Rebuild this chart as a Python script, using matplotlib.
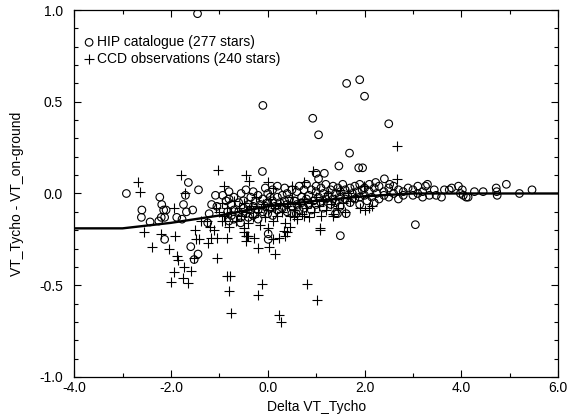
import matplotlib
matplotlib.use('Agg')
import matplotlib.pyplot as plt
import matplotlib.ticker as ticker
import numpy as np

plt.rcParams['font.family'] = ['Liberation Sans', 'DejaVu Sans']
plt.rcParams['font.size'] = 10

# HIP catalogue comparisons (x = Delta VT_Tycho, y = VT_Tycho - VT_on-ground)
hip_x = [
    -2.92, -2.60, -2.61, -2.43, -2.23, -2.19, -2.15, -2.13, -2.20, -2.25, -2.10, -2.13,
    -1.88, -1.77, -1.74, -1.70, -1.64, -1.43, -1.55, -1.68, -1.59, -1.44, -1.52,
    -1.08, -0.93, -1.16, -1.05, -1.24, -1.21, -0.80, -0.80, -0.86, -0.83, -0.80, -1.45,
    -0.11, 1.69, 1.47, 1.00, 1.17, 1.05, 1.50, 0.01, 0.01, 1.40, 1.62, 0.59, -0.56,
    -0.10, 1.63, 0.93, 1.05, 1.90, 2.00, 2.50, 1.88, 1.96, 2.41, 2.52, 3.05, 2.23, 1.44,
    -0.75, -0.75, -0.70, -0.70, -0.70, -0.60, -0.60, -0.55, -0.55, -0.50, -0.50,
    -0.45, -0.45, -0.40, -0.40, -0.35, -0.35, -0.30, -0.30, -0.30, -0.25,
    -0.20, -0.20, -0.20, -0.15, -0.10, -0.10, -0.05, -0.05, 0.00, 0.00, 0.00,
    0.05, 0.05, 0.10, 0.10, 0.10, 0.15, 0.20, 0.20, 0.20, 0.25, 0.30, 0.30,
    0.35, 0.35, 0.40, 0.40, 0.40, 0.45, 0.50, 0.50, 0.50, 0.55, 0.60, 0.60,
    0.65, 0.65, 0.70, 0.70, 0.75, 0.75, 0.80, 0.80, 0.85, 0.85, 0.90, 0.90, 0.95,
    1.00, 1.00, 1.00, 1.05, 1.10, 1.10, 1.15, 1.15, 1.20, 1.20, 1.25, 1.30, 1.30,
    1.35, 1.35, 1.40, 1.40, 1.45, 1.50, 1.50, 1.50, 1.55, 1.60, 1.60, 1.65,
    1.70, 1.70, 1.75, 1.80, 1.80, 1.85, 1.90, 1.90, 1.90, 1.95, 2.00, 2.00, 2.05,
    2.10, 2.10, 2.15, 2.20, 2.20, 2.25, 2.30, 2.30, 2.40, 2.40, 2.50, 2.50,
    2.60, 2.60, 2.70, 2.70, 2.80, 2.80, 2.90, 3.00, 3.00, 3.10, 3.10, 3.20, 3.20,
    3.26, 3.30, 3.44, 3.34, 3.48, 3.59, 3.65, 3.75, 3.80, 3.94, 3.98, 4.02, 4.04,
    4.10, 4.14, 4.27, 4.45, 4.72, 4.73, 4.74, 4.93, 5.20, 5.46,
]
hip_y = [
    0.00, -0.09, -0.13, -0.155, -0.02, -0.06, -0.09, -0.13, -0.13, -0.15, -0.09, -0.25,
    -0.13, -0.14, -0.06, -0.01, 0.06, 0.02, -0.09, -0.10, -0.29, -0.33, -0.36,
    -0.01, -0.01, -0.06, -0.07, -0.16, -0.11, 0.01, -0.03, -0.04, -0.10, -0.15, 0.98,
    0.12, 0.22, 0.15, 0.11, 0.11, 0.08, -0.23, -0.22, -0.25, -0.11, -0.11, -0.11, -0.16,
    0.48, 0.60, 0.41, 0.32, 0.62, 0.53, 0.38, 0.14, 0.14, 0.08, 0.05, -0.17, 0.06, -0.11,
    -0.06, -0.12, -0.02, -0.09, -0.14, -0.05, -0.10, 0.00, -0.13, -0.04, -0.08,
    -0.11, 0.02, -0.06, -0.13, -0.02, -0.09, -0.07, 0.01, -0.12, -0.04,
    -0.09, -0.01, -0.14, -0.06, -0.03, -0.10, 0.03, -0.07, -0.05, -0.11, 0.00,
    -0.08, -0.02, -0.04, -0.12, 0.02, -0.07, -0.02, -0.09, 0.04, -0.05, -0.08, -0.01,
    0.03, -0.04, -0.10, -0.06, 0.00, -0.03, -0.07, 0.02, -0.11, -0.04, 0.01, -0.06,
    -0.09, 0.04, -0.02, -0.05, 0.02, -0.08, -0.03, 0.05, -0.06, -0.01, 0.02, -0.09, -0.04,
    0.01, -0.06, 0.04, -0.02, -0.05, 0.03, 0.00, -0.08, -0.03, 0.05, -0.01, -0.06, 0.02,
    0.04, -0.03, 0.00, -0.05, 0.03, -0.02, 0.01, -0.07, 0.05, -0.03, 0.02, -0.01,
    0.03, -0.05, 0.00, -0.03, 0.04, 0.01, -0.02, 0.05, -0.06, 0.02, -0.01, 0.03, -0.04,
    0.01, 0.05, -0.02, 0.03, -0.05, 0.00, 0.04, -0.03, 0.01, -0.01, 0.03, -0.02,
    0.00, 0.04, -0.03, 0.02, 0.01, -0.01, 0.03, -0.01, 0.02, 0.04, 0.00, 0.01, -0.02,
    0.04, 0.05, 0.02, -0.01, -0.01, -0.02, 0.02, 0.02, 0.03, 0.04, 0.00, 0.02, -0.01,
    -0.02, -0.02, 0.01, 0.01, 0.03, 0.01, -0.01, 0.05, 0.00, 0.02,
]

# CCD observations
ccd_x = [
    -2.67, -2.64, -1.80, -1.02, -0.90, -1.94, -1.71, -2.55, -2.20, -1.92, -2.39, -2.03,
    -1.88, -1.86, -1.74, -1.59, -1.94, -2.00, -1.76, -1.64, -1.50, -1.48, -1.43, -1.24,
    -1.52, -1.38, -1.25, -1.19, -1.11, -1.17, -1.04, -1.04, -0.84, -0.85, -0.78, -0.80,
    -0.75, -1.07, -0.95, -0.88,
    -0.45, -0.38, 0.01, 0.10, 0.93, 0.74, 0.51, 1.09, 0.34, 0.23, -0.42, -0.28, -0.45,
    -0.21, 0.03, 0.16, 0.00, -0.12, -0.20, 0.82, 1.02, 0.23, 0.27,
    -0.50, -0.45, -0.40, 0.10, 0.35, 0.40, 0.45, 1.08,
    -1.00, -0.95, -0.90, -0.85, -0.80, -0.75, -0.70, -0.65, -0.60, -0.55, -0.50, -0.50,
    -0.45, -0.40, -0.35, -0.30, -0.25, -0.20, -0.15, -0.10, -0.05, 0.00, 0.05, 0.10,
    0.15, 0.20, 0.25, 0.30, 0.35, 0.40, 0.45, 0.50, 0.55, 0.60, 0.65, 0.70, 0.75,
    0.80, 0.85, 0.90, 0.95, 1.00, 1.05, 1.10, 1.15, 1.20, 1.25, 1.30, 1.35, 1.40,
    1.45, 1.50, 1.55, 1.60, 1.65, 1.70, 1.80, 1.90, 2.00, 2.10, 2.15, 1.98, 2.68, 2.68,
    0.55, 0.60, 0.75, 1.35,
]
ccd_y = [
    0.06, 0.01, 0.10, 0.13, 0.04, -0.08, 0.00, -0.21, -0.22, -0.23, -0.29, -0.30,
    -0.34, -0.36, -0.40, -0.42, -0.43, -0.48, -0.46, -0.49, -0.20, -0.25, -0.25, -0.27,
    -0.35, -0.15, -0.15, -0.18, -0.20, -0.24, -0.24, -0.35, -0.24, -0.45, -0.45, -0.53,
    -0.65, -0.08, -0.15, -0.15,
    0.10, 0.07, 0.06, 0.03, 0.12, 0.06, 0.04, -0.20, -0.205, -0.24, -0.23, -0.24, -0.26,
    -0.295, -0.29, -0.33, -0.19, -0.495, -0.555, -0.495, -0.578, -0.663, -0.70,
    -0.21, -0.23, -0.23, -0.25, -0.23, -0.21, -0.18, -0.19,
    -0.10, -0.05, -0.12, -0.08, -0.18, -0.10, -0.04, -0.15, -0.08, -0.12, -0.19, -0.05,
    -0.10, -0.16, -0.07, -0.13, -0.02, -0.10, -0.17, -0.06, -0.13, -0.09, -0.03, -0.15,
    -0.08, -0.12, -0.05, -0.10, -0.16, -0.07, -0.12, -0.02, -0.09, -0.14, -0.06, -0.11, -0.03,
    -0.08, -0.13, -0.05, -0.10, -0.02, -0.07, -0.12, -0.04, -0.09, 0.00, -0.06, -0.11, -0.03,
    -0.08, 0.02, -0.05, -0.10, 0.00, -0.04, -0.02, -0.08, -0.09, -0.08, -0.07, 0.04, 0.26, 0.08,
    -0.12, -0.12, -0.12, -0.12,
]

# correction curve
curve_x = [-4.0, -3.0, -2.0, -1.0, 0.0, 1.0, 2.0, 3.0, 6.0]
curve_y = [-0.19, -0.19, -0.16, -0.12, -0.07, -0.04, -0.015, 0.0, 0.0]

fig = plt.figure(figsize=(5.79, 4.17), dpi=100)
ax = fig.add_axes([0.128, 0.096, 0.836, 0.880])

ax.scatter(hip_x, hip_y, s=30, marker='o', facecolors='none', edgecolors='black',
           linewidths=0.8, label='HIP catalogue (277 stars)', zorder=3)
ax.scatter(ccd_x, ccd_y, s=55, marker='+', color='black', linewidths=0.8,
           label='CCD observations (240 stars)', zorder=3)
ax.plot(curve_x, curve_y, color='black', lw=1.7, zorder=4)

ax.set_xlim(-4, 6)
ax.set_ylim(-1, 1)
ax.xaxis.set_major_locator(ticker.MultipleLocator(2))
ax.xaxis.set_minor_locator(ticker.MultipleLocator(1))
ax.yaxis.set_major_locator(ticker.MultipleLocator(0.5))
ax.yaxis.set_minor_locator(ticker.MultipleLocator(0.1))
ax.xaxis.set_major_formatter(ticker.FormatStrFormatter('%.1f'))
ax.yaxis.set_major_formatter(ticker.FormatStrFormatter('%.1f'))
ax.tick_params(which='both', direction='in', top=True, right=True, width=0.8)
ax.tick_params(which='major', length=5)
ax.tick_params(which='minor', length=3)
ax.tick_params(axis='x', which='major', pad=3)
ax.tick_params(axis='y', which='major', pad=8)
for s in ax.spines.values():
    s.set_linewidth(0.9)

ax.set_xlabel('Delta VT_Tycho')
ax.set_ylabel('VT_Tycho - VT_on-ground')
ax.xaxis.set_label_coords(0.5, -0.063)
ax.yaxis.set_label_coords(-0.103, 0.5)

ax.legend(loc='upper left', bbox_to_anchor=(0.008, 0.947), frameon=False, borderaxespad=0,
          handlelength=0.8, handletextpad=0.2, labelspacing=0.2)

fig.savefig('out.png', dpi=100)
